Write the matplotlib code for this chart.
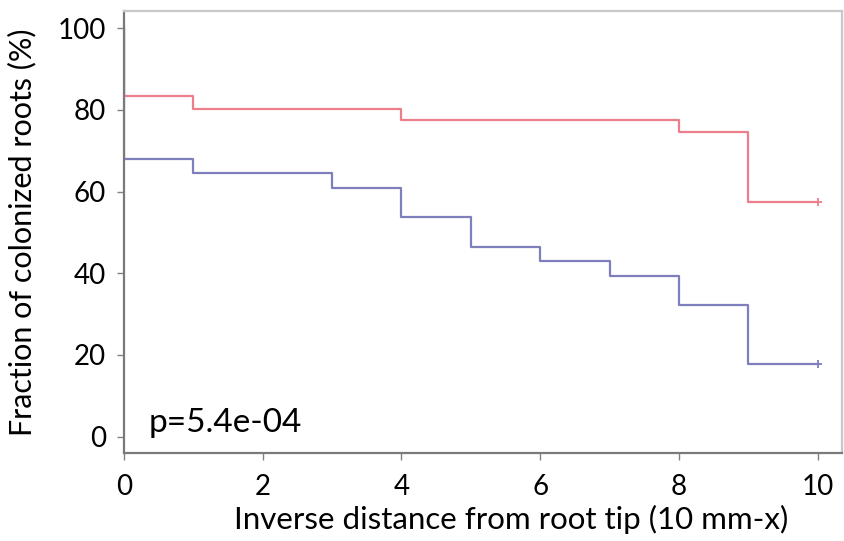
import matplotlib
matplotlib.use("Agg")
import matplotlib.pyplot as plt

plt.rcParams["font.family"] = ["Lato", "DejaVu Sans"]

# Kaplan-Meier style step curves
STEP_X = [0, 0, 1, 2, 3, 4, 5, 6, 7, 8, 9, 10]
RED_Y = [100, 83.3, 80.2, 80.2, 80.2, 77.5, 77.5, 77.5, 77.5, 74.5, 57.4, 57.4]
BLUE_Y = [100, 67.9, 64.5, 64.5, 60.8, 53.7, 46.5, 43.0, 39.3, 32.2, 17.9, 17.9]
P_TEXT = "p=5.4e-04"
X_TICKS = [0, 2, 4, 6, 8, 10]
Y_TICKS = [0, 20, 40, 60, 80, 100]

RED = "#ec7f8b"
BLUE = "#7f7fbd"

fig = plt.figure(figsize=(8.45, 5.41), dpi=100)
ax = fig.add_axes((124 / 845, 1 - 453 / 541, (842 - 124) / 845, (453 - 11) / 541))

ax.step(STEP_X, BLUE_Y, where="post", color=BLUE, lw=1.6)
ax.step(STEP_X, RED_Y, where="post", color=RED, lw=1.6)
ax.plot(STEP_X[-1], BLUE_Y[-1], "+", color=BLUE, ms=6, mew=1.3)
ax.plot(STEP_X[-1], RED_Y[-1], "+", color=RED, ms=6, mew=1.3)

ax.set_xlim(0, 10.35)
ax.set_ylim(-4.0, 104.2)
ax.set_xticks(X_TICKS)
ax.set_yticks(Y_TICKS)
ax.tick_params(direction="out", length=5, width=1, color="#808080", labelsize=20)
ax.tick_params(axis="x", pad=10)
ax.tick_params(axis="y", pad=8)

for side in ("left", "bottom"):
    ax.spines[side].set_color("#7a7a7a")
    ax.spines[side].set_linewidth(1.6)
for side in ("top", "right"):
    ax.spines[side].set_color("#c8c8c8")
    ax.spines[side].set_linewidth(1.6)

ax.set_xlabel("Inverse distance from root tip (10 mm-x)", fontsize=22.5)
ax.xaxis.set_label_coords(0.539, -0.118)
ax.set_ylabel("Fraction of colonized roots (%)", fontsize=22, labelpad=15)

ax.text(0.35, 1.1, P_TEXT, fontsize=24, va="baseline", ha="left")

fig.savefig("out.png", dpi=100)
